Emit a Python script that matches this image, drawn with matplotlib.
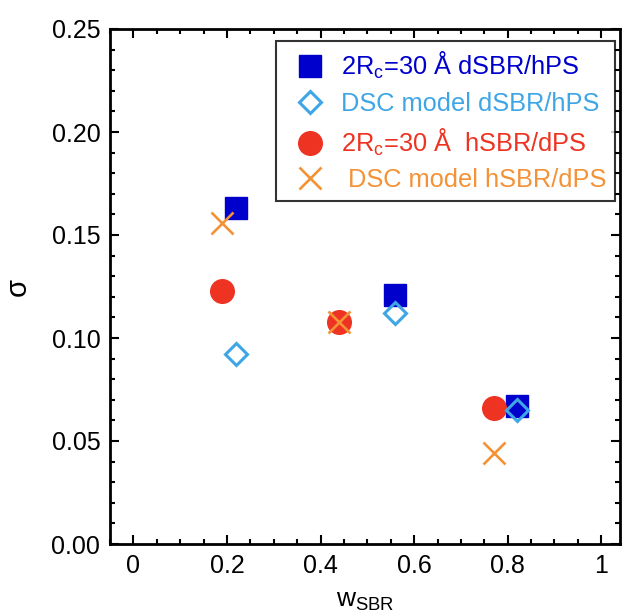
import matplotlib
matplotlib.use("Agg")
import matplotlib.pyplot as plt
from matplotlib.ticker import MultipleLocator, FixedLocator, FixedFormatter

plt.rcParams['font.family'] = ['Liberation Sans', 'DejaVu Sans']
plt.rcParams['mathtext.fontset'] = 'custom'
plt.rcParams['mathtext.rm'] = 'Liberation Sans'
plt.rcParams['mathtext.it'] = 'Liberation Sans:italic'

# Data
w_dsbr = [0.22, 0.56, 0.82]
sigma_fit_dsbr = [0.163, 0.121, 0.067]
sigma_dsc_dsbr = [0.092, 0.112, 0.065]

w_hsbr = [0.19, 0.44, 0.77]
sigma_fit_hsbr = [0.123, 0.108, 0.066]
sigma_dsc_hsbr = [0.156, 0.108, 0.044]

labels = [r'2R$\mathregular{_c}$=30 Å dSBR/hPS',
          'DSC model dSBR/hPS',
          r'2R$\mathregular{_c}$=30 Å  hSBR/dPS',
          ' DSC model hSBR/dPS']
colors = ['#0000CC', '#3FA6E6', '#EE3322', '#F39236']

xticks = [0, 0.2, 0.4, 0.6, 0.8, 1.0]
xticklabels = ['0', '0.2', '0.4', '0.6', '0.8', '1']
yticks = [0.00, 0.05, 0.10, 0.15, 0.20, 0.25]
yticklabels = ['0.00', '0.05', '0.10', '0.15', '0.20', '0.25']

fig = plt.figure(figsize=(6.28, 6.16), dpi=100)
ax = fig.add_axes([110/628, 1-544/616, 510/628, 515/616])

h1, = ax.plot(w_dsbr, sigma_fit_dsbr, 's', color=colors[0], ms=16, mec=colors[0], ls='none', zorder=3)
h2, = ax.plot(w_dsbr, sigma_dsc_dsbr, 'D', mfc='none', mec=colors[1], mew=2.2, ms=11.6, ls='none', zorder=4)
h3, = ax.plot(w_hsbr, sigma_fit_hsbr, 'o', color=colors[2], ms=17, ls='none', zorder=3)
h4, = ax.plot(w_hsbr, sigma_dsc_hsbr, 'x', color=colors[3], mew=1.9, ms=16, ls='none', zorder=4)

ax.set_xlim(-0.05, 1.04)
ax.set_ylim(0, 0.25)
ax.xaxis.set_major_locator(FixedLocator(xticks))
ax.xaxis.set_major_formatter(FixedFormatter(xticklabels))
ax.yaxis.set_major_locator(FixedLocator(yticks))
ax.yaxis.set_major_formatter(FixedFormatter(yticklabels))
ax.xaxis.set_minor_locator(MultipleLocator(0.05))
ax.yaxis.set_minor_locator(MultipleLocator(0.01))
ax.tick_params(which='both', direction='in', top=True, right=True, width=1.5)
ax.tick_params(which='major', length=6.5, labelsize=18, pad=7)
ax.tick_params(which='minor', length=3.6)
for s in ax.spines.values():
    s.set_linewidth(2)

ax.set_xlabel(r'w$\mathregular{_{SBR}}$', fontsize=19, labelpad=8)
ax.set_ylabel('σ', fontsize=21, labelpad=14, rotation=90)

leg = ax.legend([h1, h2, h3, h4], labels, loc='upper right',
                bbox_to_anchor=(1.0 - 5/510, 1.0 - 12/515),
                fontsize=18.3, frameon=True, fancybox=False, edgecolor='black',
                handlelength=2.0, handletextpad=0.2, labelspacing=0.42,
                borderpad=0.35, borderaxespad=0)
leg.get_frame().set_linewidth(1.5)
for t, c in zip(leg.get_texts(), colors):
    t.set_color(c)

fig.savefig('out.png', dpi=100)
